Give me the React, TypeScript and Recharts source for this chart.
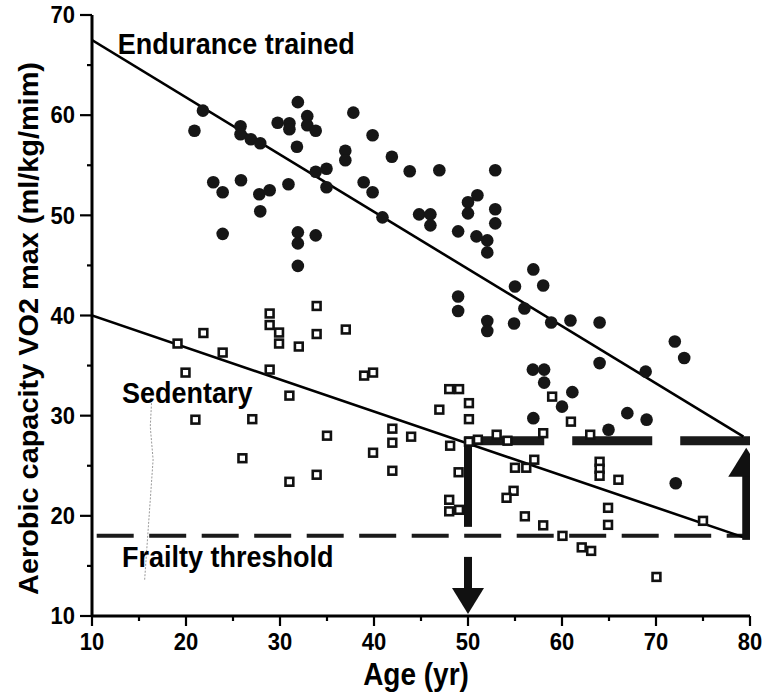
import React from 'react';
import { ComposedChart, Scatter, XAxis, YAxis } from 'recharts';

// ---- data (age in years, VO2 max in ml/kg/min) ----
const enduranceTrained = [
  { x: 21.8, y: 60.45 }, { x: 20.9, y: 58.45 }, { x: 31.9, y: 61.3 }, { x: 29.75, y: 59.25 },
  { x: 31.0, y: 59.2 }, { x: 31.0, y: 58.6 }, { x: 32.9, y: 59.9 }, { x: 32.9, y: 59.0 },
  { x: 33.8, y: 58.45 }, { x: 37.8, y: 60.25 }, { x: 25.8, y: 58.9 }, { x: 25.8, y: 58.1 },
  { x: 26.9, y: 57.6 }, { x: 27.9, y: 57.2 }, { x: 31.8, y: 56.85 }, { x: 39.85, y: 58.0 },
  { x: 36.95, y: 56.45 }, { x: 36.95, y: 55.5 }, { x: 41.9, y: 55.85 }, { x: 33.8, y: 54.35 },
  { x: 34.95, y: 54.65 }, { x: 34.95, y: 52.8 }, { x: 22.9, y: 53.3 }, { x: 23.9, y: 52.3 },
  { x: 25.85, y: 53.5 }, { x: 27.8, y: 52.1 }, { x: 28.9, y: 52.5 }, { x: 30.9, y: 53.1 },
  { x: 38.9, y: 53.3 }, { x: 39.85, y: 52.3 }, { x: 40.9, y: 49.8 }, { x: 27.9, y: 50.4 },
  { x: 23.9, y: 48.15 }, { x: 31.9, y: 48.3 }, { x: 31.9, y: 47.2 }, { x: 33.8, y: 48.0 },
  { x: 31.9, y: 44.95 },
  { x: 43.8, y: 54.4 }, { x: 46.95, y: 54.5 }, { x: 52.9, y: 54.5 }, { x: 51.0, y: 52.0 },
  { x: 50.0, y: 51.3 }, { x: 50.0, y: 50.2 }, { x: 52.9, y: 50.6 }, { x: 52.9, y: 49.2 },
  { x: 44.8, y: 50.1 }, { x: 46.0, y: 50.1 }, { x: 46.0, y: 49.0 }, { x: 48.95, y: 48.4 },
  { x: 50.9, y: 47.9 }, { x: 52.05, y: 47.5 }, { x: 52.05, y: 46.3 }, { x: 56.95, y: 44.6 },
  { x: 55.0, y: 42.9 }, { x: 58.0, y: 43.0 },
  { x: 48.95, y: 41.9 }, { x: 48.95, y: 40.45 }, { x: 56.0, y: 40.7 }, { x: 52.05, y: 39.45 },
  { x: 52.05, y: 38.45 }, { x: 54.9, y: 39.2 }, { x: 58.85, y: 39.3 }, { x: 60.9, y: 39.5 },
  { x: 64.0, y: 39.3 }, { x: 72.0, y: 37.4 }, { x: 73.0, y: 35.75 }, { x: 64.0, y: 35.25 },
  { x: 68.9, y: 34.4 }, { x: 56.9, y: 34.6 }, { x: 58.1, y: 34.6 }, { x: 58.1, y: 33.3 },
  { x: 61.1, y: 32.35 }, { x: 60.0, y: 30.9 }, { x: 56.95, y: 29.75 }, { x: 66.95, y: 30.25 },
  { x: 69.0, y: 29.6 }, { x: 64.95, y: 28.6 }, { x: 72.1, y: 23.25 },
];

const sedentary = [
  { x: 33.9, y: 40.95 }, { x: 28.9, y: 40.2 }, { x: 28.9, y: 39.05 }, { x: 29.9, y: 38.3 },
  { x: 29.9, y: 37.2 }, { x: 21.85, y: 38.25 }, { x: 33.9, y: 38.15 }, { x: 37.0, y: 38.6 },
  { x: 19.1, y: 37.2 }, { x: 23.9, y: 36.3 }, { x: 32.0, y: 36.9 }, { x: 19.95, y: 34.3 },
  { x: 28.9, y: 34.6 }, { x: 38.95, y: 34.0 }, { x: 39.9, y: 34.3 }, { x: 31.0, y: 32.0 },
  { x: 21.0, y: 29.6 }, { x: 27.05, y: 29.65 }, { x: 35.0, y: 28.0 }, { x: 41.95, y: 28.7 },
  { x: 41.95, y: 27.3 }, { x: 39.9, y: 26.3 }, { x: 26.0, y: 25.75 }, { x: 41.95, y: 24.5 },
  { x: 33.9, y: 24.1 }, { x: 31.0, y: 23.4 },
  { x: 48.0, y: 32.65 }, { x: 49.05, y: 32.65 }, { x: 50.1, y: 31.25 }, { x: 46.95, y: 30.6 },
  { x: 50.1, y: 29.65 }, { x: 58.95, y: 31.9 }, { x: 60.95, y: 29.4 }, { x: 43.95, y: 27.9 },
  { x: 48.1, y: 27.0 }, { x: 50.1, y: 27.4 }, { x: 51.05, y: 27.6 }, { x: 53.05, y: 28.1 },
  { x: 54.2, y: 27.5 }, { x: 58.0, y: 28.25 }, { x: 63.0, y: 28.1 }, { x: 57.05, y: 25.6 },
  { x: 55.0, y: 24.8 }, { x: 56.2, y: 24.8 }, { x: 49.0, y: 24.35 }, { x: 66.0, y: 23.6 },
  { x: 64.0, y: 25.4 }, { x: 64.0, y: 24.7 }, { x: 64.0, y: 24.0 },
  { x: 54.85, y: 22.5 }, { x: 54.1, y: 21.8 }, { x: 48.0, y: 21.6 }, { x: 48.0, y: 20.45 },
  { x: 49.05, y: 20.6 }, { x: 56.05, y: 19.95 }, { x: 58.0, y: 19.05 }, { x: 64.9, y: 20.8 },
  { x: 64.9, y: 19.1 }, { x: 60.05, y: 18.0 }, { x: 62.1, y: 16.85 }, { x: 63.1, y: 16.5 },
  { x: 70.05, y: 13.9 }, { x: 75.0, y: 19.5 },
];

const enduranceFit = [{ x: 10, y: 67.5 }, { x: 79.3, y: 27.9 }];
const sedentaryFit = [{ x: 10, y: 40 }, { x: 79.5, y: 17.8 }];
const frailtyThreshold = [{ x: 10.5, y: 18 }, { x: 80, y: 18 }];
const trainedAt80 = [{ x: 49.6, y: 27.5 }, { x: 80, y: 27.5 }];
const arrowAt50Upper = [{ x: 50, y: 27.8 }, { x: 50, y: 18.9 }];
const arrowAt50Lower = [{ x: 50, y: 15.9 }, { x: 50, y: 12.7 }];
const arrowAt50Tip = [{ x: 50, y: 10.2 }];
const arrowAt80Shaft = [{ x: 79.6, y: 17.6 }, { x: 79.6, y: 24.1 }];
const arrowAt80Tip = [{ x: 79.6, y: 26.8 }];
const pointerTrace = [
  { x: 16.35, y: 31.6 }, { x: 16.2, y: 28.9 }, { x: 16.5, y: 25.6 },
  { x: 15.95, y: 18.3 }, { x: 15.6, y: 13.6 },
];
const labelEndurance = [{ x: 12.75, y: 67.2 }];
const labelSedentary = [{ x: 13.2, y: 32.3 }];
const labelFrailty = [{ x: 13.2, y: 15.9 }];

const xTicks = [10, 15, 20, 25, 30, 35, 40, 45, 50, 55, 60, 65, 70, 75, 80];
const yTicks = [10, 15, 20, 25, 30, 35, 40, 45, 50, 55, 60, 65, 70];

const FONT = "'Liberation Sans', Arial, Helvetica, sans-serif";

const XTick = (props: any) => {
  const { x, y, payload } = props;
  const v = payload.value;
  const major = v % 10 === 0;
  return (
    <g>
      <line x1={x} x2={x} y1={y} y2={y + (major ? 10 : 5)} stroke="#000" strokeWidth={2.2} />
      {major && (
        <text
          transform={`translate(${x},${y + 26}) scale(1,1.08)`}
          textAnchor="middle"
          dominantBaseline="central"
          fontFamily={FONT}
          fontWeight="bold"
          fontSize={22}
          fill="#000"
        >
          {v}
        </text>
      )}
    </g>
  );
};

const YTick = (props: any) => {
  const { x, y, payload } = props;
  const v = payload.value;
  const major = v % 10 === 0;
  return (
    <g>
      <line x1={x} x2={x - (major ? 12 : 5)} y1={y} y2={y} stroke="#000" strokeWidth={2.2} />
      {major && (
        <text
          transform={`translate(${x - 17},${y}) scale(1,1.08)`}
          textAnchor="end"
          dominantBaseline="central"
          fontFamily={FONT}
          fontWeight="bold"
          fontSize={22}
          fill="#000"
        >
          {v}
        </text>
      )}
    </g>
  );
};

const Dot = (props: any) => <circle cx={props.cx} cy={props.cy} r={6.3} fill="#161616" />;
const Box = (props: any) => (
  <rect x={props.cx - 3.9} y={props.cy - 3.9} width={7.8} height={7.8} fill="#fff" stroke="#111" strokeWidth={2.6} />
);
const Nothing = () => <g />;
const DownHead = (props: any) => {
  const { cx, cy } = props;
  return <polygon points={`${cx},${cy} ${cx - 16},${cy - 26} ${cx + 16},${cy - 26}`} fill="#111" />;
};
const UpHead = (props: any) => {
  const { cx, cy } = props;
  return <polygon points={`${cx},${cy} ${cx - 18},${cy + 29} ${cx + 18},${cy + 29}`} fill="#111" />;
};
const makeText = (text: string) => (props: any) => (
  <text
    transform={`translate(${props.cx},${props.cy}) scale(1,1.1)`}
    dominantBaseline="central"
    fontFamily={FONT}
    fontWeight="bold"
    fontSize={27}
    fill="#000"
  >
    {text}
  </text>
);

const YTitle = (props: any) => {
  const vb = props.viewBox || { x: 0, y: 0, width: 0, height: 0 };
  const cx = vb.x + 29;
  const cy = vb.y + vb.height / 2 + 13;
  return (
    <text
      transform={`translate(${cx},${cy}) rotate(-90) scale(1.07,1)`}
      textAnchor="middle"
      dominantBaseline="central"
      fontFamily={FONT}
      fontWeight="bold"
      fontSize={27}
      fill="#000"
    >
      Aerobic capacity VO2 max (ml/kg/mim)
    </text>
  );
};

const XTitle = (props: any) => {
  const vb = props.viewBox || { x: 0, y: 0, width: 0, height: 0 };
  const cx = vb.x + vb.width / 2 - 5;
  const cy = vb.y + 58;
  return (
    <text
      transform={`translate(${cx},${cy}) scale(1,1.1)`}
      textAnchor="middle"
      dominantBaseline="central"
      fontFamily={FONT}
      fontWeight="bold"
      fontSize={28}
      fill="#000"
    >
      Age (yr)
    </text>
  );
};

export default function App() {
  return (
    <div style={{ position: 'absolute', left: 0, top: 0, width: 766, height: 696, background: '#fff' }}>
      <ComposedChart width={766} height={696} margin={{ top: 15, right: 16, bottom: 0, left: 0 }}>
        <XAxis
          type="number"
          dataKey="x"
          domain={[10, 80]}
          ticks={xTicks}
          allowDataOverflow
          height={80}
          tickLine={false}
          tickSize={0}
          tickMargin={0}
          axisLine={{ stroke: '#000', strokeWidth: 3 }}
          tick={<XTick />}
          interval={0}
          label={{ content: <XTitle /> }}
        />
        <YAxis
          type="number"
          dataKey="y"
          domain={[10, 70]}
          ticks={yTicks}
          allowDataOverflow
          width={92}
          tickLine={false}
          tickSize={0}
          tickMargin={0}
          axisLine={{ stroke: '#000', strokeWidth: 3 }}
          tick={<YTick />}
          interval={0}
          label={{ content: <YTitle /> }}
        />
        <Scatter data={pointerTrace} shape={<Nothing />} line={{ stroke: '#9a9a9a', strokeWidth: 1, strokeDasharray: '2 1.5' }} isAnimationActive={false} />
        <Scatter data={frailtyThreshold} shape={<Nothing />} line={{ stroke: '#1a1a1a', strokeWidth: 4, strokeDasharray: '37 15.5' }} isAnimationActive={false} />
        <Scatter data={trainedAt80} shape={<Nothing />} line={{ stroke: '#1a1a1a', strokeWidth: 9, strokeDasharray: '80 28' }} isAnimationActive={false} />
        <Scatter data={enduranceFit} shape={<Nothing />} line={{ stroke: '#000', strokeWidth: 2.6 }} isAnimationActive={false} />
        <Scatter data={sedentaryFit} shape={<Nothing />} line={{ stroke: '#000', strokeWidth: 2.6 }} isAnimationActive={false} />
        <Scatter data={arrowAt50Upper} shape={<Nothing />} line={{ stroke: '#111', strokeWidth: 8 }} isAnimationActive={false} />
        <Scatter data={arrowAt50Lower} shape={<Nothing />} line={{ stroke: '#111', strokeWidth: 8 }} isAnimationActive={false} />
        <Scatter data={arrowAt50Tip} shape={<DownHead />} isAnimationActive={false} />
        <Scatter data={arrowAt80Shaft} shape={<Nothing />} line={{ stroke: '#111', strokeWidth: 8 }} isAnimationActive={false} />
        <Scatter data={arrowAt80Tip} shape={<UpHead />} isAnimationActive={false} />
        <Scatter data={enduranceTrained} shape={<Dot />} isAnimationActive={false} />
        <Scatter data={sedentary} shape={<Box />} isAnimationActive={false} />
        <Scatter data={labelEndurance} shape={makeText('Endurance trained')} isAnimationActive={false} />
        <Scatter data={labelSedentary} shape={makeText('Sedentary')} isAnimationActive={false} />
        <Scatter data={labelFrailty} shape={makeText('Frailty threshold')} isAnimationActive={false} />
      </ComposedChart>
    </div>
  );
}
